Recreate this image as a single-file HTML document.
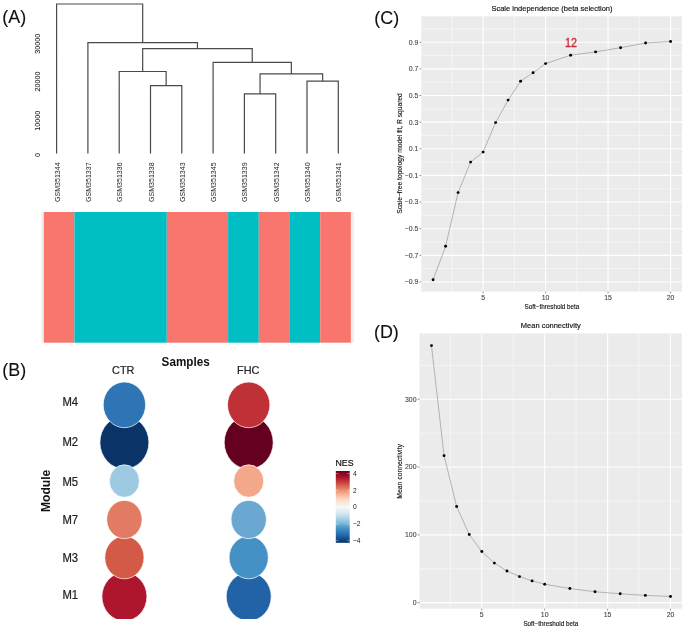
<!DOCTYPE html>
<html><head><meta charset="utf-8"><style>
html,body{margin:0;padding:0;background:#fff;}
svg{display:block;font-family:"Liberation Sans", sans-serif;filter:blur(0.4px);}
</style></head><body>
<svg width="685" height="628" viewBox="0 0 685 628">
<text x="2.30" y="22.60" font-size="17.9" text-anchor="start" fill="#111" transform="translate(0 22.6) scale(1 1.07) translate(0 -22.6)" stroke="#111" stroke-width="0.1">(A)</text>
<path d="M150.50 153.50V85.70H181.80V153.50M119.20 153.50V71.50H166.15V85.70M307.00 153.50V81.20H338.30V153.50M244.40 153.50V93.90H275.70V153.50M260.05 93.90V73.80H322.65V81.20M213.10 153.50V62.40H291.35V73.80M142.68 71.50V48.70H252.23V62.40M87.90 153.50V42.60H197.45V48.70M56.60 153.50V4.00H142.68V42.60" fill="none" stroke="#4a4a4a" stroke-width="1.2"/>
<text x="39.90" y="43.65" font-size="6.61" text-anchor="middle" fill="#222" transform="translate(39.9 43.65) rotate(-90) scale(1.09 1) translate(-39.9 -43.65)" stroke="#222" stroke-width="0.08">30000</text>
<text x="39.90" y="81.50" font-size="6.61" text-anchor="middle" fill="#222" transform="translate(39.9 81.5) rotate(-90) scale(1.09 1) translate(-39.9 -81.5)" stroke="#222" stroke-width="0.08">20000</text>
<text x="39.90" y="120.70" font-size="6.61" text-anchor="middle" fill="#222" transform="translate(39.9 120.7) rotate(-90) scale(1.09 1) translate(-39.9 -120.7)" stroke="#222" stroke-width="0.08">10000</text>
<text x="39.90" y="155.00" font-size="6.61" text-anchor="middle" fill="#222" transform="translate(39.9 155.0) rotate(-90) scale(1.09 1) translate(-39.9 -155.0)" stroke="#222" stroke-width="0.08">0</text>
<text x="59.70" y="162.40" font-size="6.59" text-anchor="end" fill="#222" transform="translate(59.7 162.4) rotate(-90) scale(1.07 1) translate(-59.7 -162.4)">GSM351344</text>
<text x="91.00" y="162.40" font-size="6.59" text-anchor="end" fill="#222" transform="translate(91.0 162.4) rotate(-90) scale(1.07 1) translate(-91.0 -162.4)">GSM351337</text>
<text x="122.30" y="162.40" font-size="6.59" text-anchor="end" fill="#222" transform="translate(122.3 162.4) rotate(-90) scale(1.07 1) translate(-122.3 -162.4)">GSM351336</text>
<text x="153.60" y="162.40" font-size="6.59" text-anchor="end" fill="#222" transform="translate(153.6 162.4) rotate(-90) scale(1.07 1) translate(-153.6 -162.4)">GSM351338</text>
<text x="184.90" y="162.40" font-size="6.59" text-anchor="end" fill="#222" transform="translate(184.9 162.4) rotate(-90) scale(1.07 1) translate(-184.9 -162.4)">GSM351343</text>
<text x="216.20" y="162.40" font-size="6.59" text-anchor="end" fill="#222" transform="translate(216.2 162.4) rotate(-90) scale(1.07 1) translate(-216.2 -162.4)">GSM351345</text>
<text x="247.50" y="162.40" font-size="6.59" text-anchor="end" fill="#222" transform="translate(247.5 162.4) rotate(-90) scale(1.07 1) translate(-247.5 -162.4)">GSM351339</text>
<text x="278.80" y="162.40" font-size="6.59" text-anchor="end" fill="#222" transform="translate(278.8 162.4) rotate(-90) scale(1.07 1) translate(-278.8 -162.4)">GSM351342</text>
<text x="310.10" y="162.40" font-size="6.59" text-anchor="end" fill="#222" transform="translate(310.1 162.4) rotate(-90) scale(1.07 1) translate(-310.1 -162.4)">GSM351340</text>
<text x="341.40" y="162.40" font-size="6.59" text-anchor="end" fill="#222" transform="translate(341.40000000000003 162.4) rotate(-90) scale(1.07 1) translate(-341.40000000000003 -162.4)">GSM351341</text>
<rect x="41.3" y="212" width="2.6" height="130.7" fill="#efefef"/>
<rect x="350.8" y="212" width="3.2" height="130.7" fill="#efefef"/>
<rect x="43.80" y="212" width="30.60" height="130.7" fill="#F8766D"/>
<rect x="74.40" y="212" width="92.40" height="130.7" fill="#00BFC4"/>
<rect x="166.80" y="212" width="61.30" height="130.7" fill="#F8766D"/>
<rect x="228.10" y="212" width="30.70" height="130.7" fill="#00BFC4"/>
<rect x="258.80" y="212" width="30.50" height="130.7" fill="#F8766D"/>
<rect x="289.30" y="212" width="30.90" height="130.7" fill="#00BFC4"/>
<rect x="320.20" y="212" width="30.65" height="130.7" fill="#F8766D"/>
<text x="2.30" y="375.80" font-size="17.9" text-anchor="start" fill="#111" transform="translate(0 375.8) scale(1 1.07) translate(0 -375.8)" stroke="#111" stroke-width="0.1">(B)</text>
<text x="161.60" y="366.20" font-size="11.7" text-anchor="start" fill="#111" font-weight="bold" transform="translate(0 366.2) scale(1 1.07) translate(0 -366.2)">Samples</text>
<text x="123.30" y="373.90" font-size="10.9" text-anchor="middle" fill="#222" transform="translate(0 373.9) scale(1 1.07) translate(0 -373.9)" stroke="#222" stroke-width="0.2">CTR</text>
<text x="248.30" y="374.20" font-size="10.9" text-anchor="middle" fill="#222" transform="translate(0 374.2) scale(1 1.07) translate(0 -374.2)" stroke="#222" stroke-width="0.2">FHC</text>
<text x="62.40" y="405.80" font-size="11.3" text-anchor="start" fill="#222" transform="translate(0 405.8) scale(1 1.07) translate(0 -405.8)" stroke="#222" stroke-width="0.2">M4</text>
<text x="62.40" y="446.20" font-size="11.3" text-anchor="start" fill="#222" transform="translate(0 446.2) scale(1 1.07) translate(0 -446.2)" stroke="#222" stroke-width="0.2">M2</text>
<text x="62.40" y="486.20" font-size="11.3" text-anchor="start" fill="#222" transform="translate(0 486.2) scale(1 1.07) translate(0 -486.2)" stroke="#222" stroke-width="0.2">M5</text>
<text x="62.40" y="523.70" font-size="11.3" text-anchor="start" fill="#222" transform="translate(0 523.6999999999999) scale(1 1.07) translate(0 -523.6999999999999)" stroke="#222" stroke-width="0.2">M7</text>
<text x="62.40" y="561.80" font-size="11.3" text-anchor="start" fill="#222" transform="translate(0 561.8) scale(1 1.07) translate(0 -561.8)" stroke="#222" stroke-width="0.2">M3</text>
<text x="62.40" y="599.40" font-size="11.3" text-anchor="start" fill="#222" transform="translate(0 599.4) scale(1 1.07) translate(0 -599.4)" stroke="#222" stroke-width="0.2">M1</text>
<text x="49.60" y="490.80" font-size="12.1" text-anchor="middle" fill="#111" font-weight="bold" transform="translate(49.6 490.8) rotate(-90) scale(1.0 1) translate(-49.6 -490.8)">Module</text>
<defs><clipPath id="cb"><rect x="0" y="0" width="330" height="619"/></clipPath>
<linearGradient id="rdbu" x1="0" y1="0" x2="0" y2="1"><stop offset="0.00" stop-color="#67001F"/><stop offset="0.10" stop-color="#B2182B"/><stop offset="0.20" stop-color="#D6604D"/><stop offset="0.30" stop-color="#F4A582"/><stop offset="0.40" stop-color="#FDDBC7"/><stop offset="0.50" stop-color="#F7F7F7"/><stop offset="0.60" stop-color="#D1E5F0"/><stop offset="0.70" stop-color="#92C5DE"/><stop offset="0.80" stop-color="#4393C3"/><stop offset="0.90" stop-color="#2166AC"/><stop offset="1.00" stop-color="#053061"/></linearGradient></defs>
<g clip-path="url(#cb)">
<ellipse cx="124.4" cy="596.6" rx="22.50" ry="24.30" fill="#AE162D" stroke="#fff" stroke-width="0.7"/>
<ellipse cx="248.7" cy="596.6" rx="22.50" ry="24.30" fill="#2262A6" stroke="#fff" stroke-width="0.7"/>
<ellipse cx="124.4" cy="442.4" rx="24.50" ry="26.50" fill="#0A3468" stroke="#fff" stroke-width="0.7"/>
<ellipse cx="248.7" cy="442.4" rx="24.50" ry="26.50" fill="#66001F" stroke="#fff" stroke-width="0.7"/>
<ellipse cx="124.4" cy="557.5" rx="19.60" ry="21.30" fill="#D35A47" stroke="#fff" stroke-width="0.7"/>
<ellipse cx="248.7" cy="557.5" rx="19.60" ry="21.30" fill="#4590C4" stroke="#fff" stroke-width="0.7"/>
<ellipse cx="124.4" cy="404.85" rx="21.20" ry="22.85" fill="#2F74B5" stroke="#fff" stroke-width="0.7"/>
<ellipse cx="248.7" cy="404.85" rx="21.20" ry="22.85" fill="#C03037" stroke="#fff" stroke-width="0.7"/>
<ellipse cx="124.4" cy="481.05" rx="15.00" ry="16.25" fill="#9DC9E2" stroke="#fff" stroke-width="0.7"/>
<ellipse cx="248.7" cy="481.05" rx="15.00" ry="16.25" fill="#F3A889" stroke="#fff" stroke-width="0.7"/>
<ellipse cx="124.4" cy="519.5" rx="17.70" ry="19.10" fill="#E27B63" stroke="#fff" stroke-width="0.7"/>
<ellipse cx="248.7" cy="519.5" rx="17.70" ry="19.10" fill="#6AA8D2" stroke="#fff" stroke-width="0.7"/>
</g>
<text x="335.50" y="465.60" font-size="8.8" text-anchor="start" fill="#111" transform="translate(0 465.6) scale(1 1.07) translate(0 -465.6)" stroke="#111" stroke-width="0.2">NES</text>
<rect x="335.8" y="471" width="13.9" height="71.8" fill="url(#rdbu)"/>
<line x1="335.8" x2="338.4" y1="473.60" y2="473.60" stroke="#fff" stroke-width="0.5" stroke-opacity="0.75"/>
<line x1="347.1" x2="349.7" y1="473.60" y2="473.60" stroke="#fff" stroke-width="0.5" stroke-opacity="0.75"/>
<text x="352.90" y="475.90" font-size="6.7" text-anchor="start" fill="#222" transform="translate(0 475.90000000000003) scale(1 1.07) translate(0 -475.90000000000003)">4</text>
<line x1="335.8" x2="338.4" y1="490.35" y2="490.35" stroke="#fff" stroke-width="0.5" stroke-opacity="0.75"/>
<line x1="347.1" x2="349.7" y1="490.35" y2="490.35" stroke="#fff" stroke-width="0.5" stroke-opacity="0.75"/>
<text x="352.90" y="492.65" font-size="6.7" text-anchor="start" fill="#222" transform="translate(0 492.65000000000003) scale(1 1.07) translate(0 -492.65000000000003)">2</text>
<line x1="335.8" x2="338.4" y1="507.10" y2="507.10" stroke="#fff" stroke-width="0.5" stroke-opacity="0.75"/>
<line x1="347.1" x2="349.7" y1="507.10" y2="507.10" stroke="#fff" stroke-width="0.5" stroke-opacity="0.75"/>
<text x="352.90" y="509.40" font-size="6.7" text-anchor="start" fill="#222" transform="translate(0 509.40000000000003) scale(1 1.07) translate(0 -509.40000000000003)">0</text>
<line x1="335.8" x2="338.4" y1="523.85" y2="523.85" stroke="#fff" stroke-width="0.5" stroke-opacity="0.75"/>
<line x1="347.1" x2="349.7" y1="523.85" y2="523.85" stroke="#fff" stroke-width="0.5" stroke-opacity="0.75"/>
<text x="352.90" y="526.15" font-size="6.7" text-anchor="start" fill="#222" transform="translate(0 526.15) scale(1 1.07) translate(0 -526.15)">−2</text>
<line x1="335.8" x2="338.4" y1="540.60" y2="540.60" stroke="#fff" stroke-width="0.5" stroke-opacity="0.75"/>
<line x1="347.1" x2="349.7" y1="540.60" y2="540.60" stroke="#fff" stroke-width="0.5" stroke-opacity="0.75"/>
<text x="352.90" y="542.90" font-size="6.7" text-anchor="start" fill="#222" transform="translate(0 542.9) scale(1 1.07) translate(0 -542.9)">−4</text>
<text x="374.30" y="23.70" font-size="17.9" text-anchor="start" fill="#111" transform="translate(0 23.7) scale(1 1.07) translate(0 -23.7)" stroke="#111" stroke-width="0.1">(C)</text>
<text x="552.00" y="11.10" font-size="7.5" text-anchor="middle" fill="#111" transform="translate(0 11.1) scale(1 1.07) translate(0 -11.1)" stroke="#111" stroke-width="0.15">Scale independence (beta selection)</text>
<rect x="421.3" y="16.3" width="260.70" height="275.30" fill="#EBEBEB"/>
<line x1="451.85" x2="451.85" y1="16.3" y2="291.6" stroke="#fff" stroke-width="0.55" stroke-opacity="0.9"/>
<line x1="514.35" x2="514.35" y1="16.3" y2="291.6" stroke="#fff" stroke-width="0.55" stroke-opacity="0.9"/>
<line x1="576.85" x2="576.85" y1="16.3" y2="291.6" stroke="#fff" stroke-width="0.55" stroke-opacity="0.9"/>
<line x1="639.35" x2="639.35" y1="16.3" y2="291.6" stroke="#fff" stroke-width="0.55" stroke-opacity="0.9"/>
<line y1="268.66" y2="268.66" x1="421.3" x2="682.0" stroke="#fff" stroke-width="0.55" stroke-opacity="0.9"/>
<line y1="242.02" y2="242.02" x1="421.3" x2="682.0" stroke="#fff" stroke-width="0.55" stroke-opacity="0.9"/>
<line y1="215.38" y2="215.38" x1="421.3" x2="682.0" stroke="#fff" stroke-width="0.55" stroke-opacity="0.9"/>
<line y1="188.74" y2="188.74" x1="421.3" x2="682.0" stroke="#fff" stroke-width="0.55" stroke-opacity="0.9"/>
<line y1="162.10" y2="162.10" x1="421.3" x2="682.0" stroke="#fff" stroke-width="0.55" stroke-opacity="0.9"/>
<line y1="135.46" y2="135.46" x1="421.3" x2="682.0" stroke="#fff" stroke-width="0.55" stroke-opacity="0.9"/>
<line y1="108.82" y2="108.82" x1="421.3" x2="682.0" stroke="#fff" stroke-width="0.55" stroke-opacity="0.9"/>
<line y1="82.18" y2="82.18" x1="421.3" x2="682.0" stroke="#fff" stroke-width="0.55" stroke-opacity="0.9"/>
<line y1="55.54" y2="55.54" x1="421.3" x2="682.0" stroke="#fff" stroke-width="0.55" stroke-opacity="0.9"/>
<line y1="28.90" y2="28.90" x1="421.3" x2="682.0" stroke="#fff" stroke-width="0.55" stroke-opacity="0.9"/>
<line x1="483.10" x2="483.10" y1="16.3" y2="291.6" stroke="#fff" stroke-width="1.1"/>
<line x1="545.60" x2="545.60" y1="16.3" y2="291.6" stroke="#fff" stroke-width="1.1"/>
<line x1="608.10" x2="608.10" y1="16.3" y2="291.6" stroke="#fff" stroke-width="1.1"/>
<line x1="670.60" x2="670.60" y1="16.3" y2="291.6" stroke="#fff" stroke-width="1.1"/>
<line y1="281.98" y2="281.98" x1="421.3" x2="682.0" stroke="#fff" stroke-width="1.1"/>
<line y1="255.34" y2="255.34" x1="421.3" x2="682.0" stroke="#fff" stroke-width="1.1"/>
<line y1="228.70" y2="228.70" x1="421.3" x2="682.0" stroke="#fff" stroke-width="1.1"/>
<line y1="202.06" y2="202.06" x1="421.3" x2="682.0" stroke="#fff" stroke-width="1.1"/>
<line y1="175.42" y2="175.42" x1="421.3" x2="682.0" stroke="#fff" stroke-width="1.1"/>
<line y1="148.78" y2="148.78" x1="421.3" x2="682.0" stroke="#fff" stroke-width="1.1"/>
<line y1="122.14" y2="122.14" x1="421.3" x2="682.0" stroke="#fff" stroke-width="1.1"/>
<line y1="95.50" y2="95.50" x1="421.3" x2="682.0" stroke="#fff" stroke-width="1.1"/>
<line y1="68.86" y2="68.86" x1="421.3" x2="682.0" stroke="#fff" stroke-width="1.1"/>
<line y1="42.22" y2="42.22" x1="421.3" x2="682.0" stroke="#fff" stroke-width="1.1"/>
<line x1="483.10" x2="483.10" y1="291.6" y2="293.40" stroke="#333" stroke-width="0.55"/>
<text x="483.10" y="300.50" font-size="6.9" text-anchor="middle" fill="#444" transform="translate(0 300.5) scale(1 1.07) translate(0 -300.5)" stroke="#444" stroke-width="0.1">5</text>
<line x1="545.60" x2="545.60" y1="291.6" y2="293.40" stroke="#333" stroke-width="0.55"/>
<text x="545.60" y="300.50" font-size="6.9" text-anchor="middle" fill="#444" transform="translate(0 300.5) scale(1 1.07) translate(0 -300.5)" stroke="#444" stroke-width="0.1">10</text>
<line x1="608.10" x2="608.10" y1="291.6" y2="293.40" stroke="#333" stroke-width="0.55"/>
<text x="608.10" y="300.50" font-size="6.9" text-anchor="middle" fill="#444" transform="translate(0 300.5) scale(1 1.07) translate(0 -300.5)" stroke="#444" stroke-width="0.1">15</text>
<line x1="670.60" x2="670.60" y1="291.6" y2="293.40" stroke="#333" stroke-width="0.55"/>
<text x="670.60" y="300.50" font-size="6.9" text-anchor="middle" fill="#444" transform="translate(0 300.5) scale(1 1.07) translate(0 -300.5)" stroke="#444" stroke-width="0.1">20</text>
<line y1="281.98" y2="281.98" x1="419.50" x2="421.3" stroke="#333" stroke-width="0.55"/>
<text x="418.30" y="284.38" font-size="6.9" text-anchor="end" fill="#444" transform="translate(0 284.38) scale(1 1.07) translate(0 -284.38)" stroke="#444" stroke-width="0.1">−0.9</text>
<line y1="255.34" y2="255.34" x1="419.50" x2="421.3" stroke="#333" stroke-width="0.55"/>
<text x="418.30" y="257.74" font-size="6.9" text-anchor="end" fill="#444" transform="translate(0 257.73999999999995) scale(1 1.07) translate(0 -257.73999999999995)" stroke="#444" stroke-width="0.1">−0.7</text>
<line y1="228.70" y2="228.70" x1="419.50" x2="421.3" stroke="#333" stroke-width="0.55"/>
<text x="418.30" y="231.10" font-size="6.9" text-anchor="end" fill="#444" transform="translate(0 231.1) scale(1 1.07) translate(0 -231.1)" stroke="#444" stroke-width="0.1">−0.5</text>
<line y1="202.06" y2="202.06" x1="419.50" x2="421.3" stroke="#333" stroke-width="0.55"/>
<text x="418.30" y="204.46" font-size="6.9" text-anchor="end" fill="#444" transform="translate(0 204.46) scale(1 1.07) translate(0 -204.46)" stroke="#444" stroke-width="0.1">−0.3</text>
<line y1="175.42" y2="175.42" x1="419.50" x2="421.3" stroke="#333" stroke-width="0.55"/>
<text x="418.30" y="177.82" font-size="6.9" text-anchor="end" fill="#444" transform="translate(0 177.82) scale(1 1.07) translate(0 -177.82)" stroke="#444" stroke-width="0.1">−0.1</text>
<line y1="148.78" y2="148.78" x1="419.50" x2="421.3" stroke="#333" stroke-width="0.55"/>
<text x="418.30" y="151.18" font-size="6.9" text-anchor="end" fill="#444" transform="translate(0 151.18) scale(1 1.07) translate(0 -151.18)" stroke="#444" stroke-width="0.1">0.1</text>
<line y1="122.14" y2="122.14" x1="419.50" x2="421.3" stroke="#333" stroke-width="0.55"/>
<text x="418.30" y="124.54" font-size="6.9" text-anchor="end" fill="#444" transform="translate(0 124.54) scale(1 1.07) translate(0 -124.54)" stroke="#444" stroke-width="0.1">0.3</text>
<line y1="95.50" y2="95.50" x1="419.50" x2="421.3" stroke="#333" stroke-width="0.55"/>
<text x="418.30" y="97.90" font-size="6.9" text-anchor="end" fill="#444" transform="translate(0 97.9) scale(1 1.07) translate(0 -97.9)" stroke="#444" stroke-width="0.1">0.5</text>
<line y1="68.86" y2="68.86" x1="419.50" x2="421.3" stroke="#333" stroke-width="0.55"/>
<text x="418.30" y="71.26" font-size="6.9" text-anchor="end" fill="#444" transform="translate(0 71.26000000000002) scale(1 1.07) translate(0 -71.26000000000002)" stroke="#444" stroke-width="0.1">0.7</text>
<line y1="42.22" y2="42.22" x1="419.50" x2="421.3" stroke="#333" stroke-width="0.55"/>
<text x="418.30" y="44.62" font-size="6.9" text-anchor="end" fill="#444" transform="translate(0 44.62) scale(1 1.07) translate(0 -44.62)" stroke="#444" stroke-width="0.1">0.9</text>
<polyline points="433.10,279.70 445.60,246.30 458.10,192.60 470.60,162.10 483.10,152.10 495.60,122.60 508.10,100.10 520.60,81.20 533.10,72.70 545.60,63.60 570.60,55.20 595.60,51.90 620.60,47.70 645.60,43.00 670.60,41.50" fill="none" stroke="#999" stroke-width="0.7"/>
<circle cx="433.10" cy="279.70" r="1.45" fill="#000"/>
<circle cx="445.60" cy="246.30" r="1.45" fill="#000"/>
<circle cx="458.10" cy="192.60" r="1.45" fill="#000"/>
<circle cx="470.60" cy="162.10" r="1.45" fill="#000"/>
<circle cx="483.10" cy="152.10" r="1.45" fill="#000"/>
<circle cx="495.60" cy="122.60" r="1.45" fill="#000"/>
<circle cx="508.10" cy="100.10" r="1.45" fill="#000"/>
<circle cx="520.60" cy="81.20" r="1.45" fill="#000"/>
<circle cx="533.10" cy="72.70" r="1.45" fill="#000"/>
<circle cx="545.60" cy="63.60" r="1.45" fill="#000"/>
<circle cx="570.60" cy="55.20" r="1.45" fill="#000"/>
<circle cx="595.60" cy="51.90" r="1.45" fill="#000"/>
<circle cx="620.60" cy="47.70" r="1.45" fill="#000"/>
<circle cx="645.60" cy="43.00" r="1.45" fill="#000"/>
<circle cx="670.60" cy="41.50" r="1.45" fill="#000"/>
<text x="570.90" y="46.70" font-size="12.1" text-anchor="middle" fill="#C92A33" transform="translate(0 46.7) scale(1 1.07) translate(0 -46.7)" stroke="#C92A33" stroke-width="0.3" textLength="12.0" lengthAdjust="spacingAndGlyphs">12</text>
<text x="552.00" y="309.30" font-size="6.3" text-anchor="middle" fill="#111" transform="translate(0 309.3) scale(1 1.07) translate(0 -309.3)" stroke="#111" stroke-width="0.13">Soft−threshold beta</text>
<text x="402.20" y="153.50" font-size="7.0" text-anchor="middle" fill="#111" transform="translate(402.2 153.5) rotate(-90) scale(0.953 1) translate(-402.2 -153.5)" stroke="#111" stroke-width="0.12">Scale−free topology model fit, R squared</text>
<text x="374.00" y="338.30" font-size="17.9" text-anchor="start" fill="#111" transform="translate(0 338.3) scale(1 1.07) translate(0 -338.3)" stroke="#111" stroke-width="0.1">(D)</text>
<text x="550.80" y="327.60" font-size="7.5" text-anchor="middle" fill="#111" transform="translate(0 327.6) scale(1 1.07) translate(0 -327.6)" stroke="#111" stroke-width="0.15">Mean connectivity</text>
<rect x="419.5" y="333.4" width="262.50" height="275.30" fill="#EBEBEB"/>
<line x1="450.35" x2="450.35" y1="333.4" y2="608.7" stroke="#fff" stroke-width="0.55" stroke-opacity="0.9"/>
<line x1="513.25" x2="513.25" y1="333.4" y2="608.7" stroke="#fff" stroke-width="0.55" stroke-opacity="0.9"/>
<line x1="576.15" x2="576.15" y1="333.4" y2="608.7" stroke="#fff" stroke-width="0.55" stroke-opacity="0.9"/>
<line x1="639.05" x2="639.05" y1="333.4" y2="608.7" stroke="#fff" stroke-width="0.55" stroke-opacity="0.9"/>
<line y1="568.72" y2="568.72" x1="419.5" x2="682.0" stroke="#fff" stroke-width="0.55" stroke-opacity="0.9"/>
<line y1="500.95" y2="500.95" x1="419.5" x2="682.0" stroke="#fff" stroke-width="0.55" stroke-opacity="0.9"/>
<line y1="433.18" y2="433.18" x1="419.5" x2="682.0" stroke="#fff" stroke-width="0.55" stroke-opacity="0.9"/>
<line y1="365.41" y2="365.41" x1="419.5" x2="682.0" stroke="#fff" stroke-width="0.55" stroke-opacity="0.9"/>
<line x1="481.80" x2="481.80" y1="333.4" y2="608.7" stroke="#fff" stroke-width="1.1"/>
<line x1="544.70" x2="544.70" y1="333.4" y2="608.7" stroke="#fff" stroke-width="1.1"/>
<line x1="607.60" x2="607.60" y1="333.4" y2="608.7" stroke="#fff" stroke-width="1.1"/>
<line x1="670.50" x2="670.50" y1="333.4" y2="608.7" stroke="#fff" stroke-width="1.1"/>
<line y1="602.60" y2="602.60" x1="419.5" x2="682.0" stroke="#fff" stroke-width="1.1"/>
<line y1="534.83" y2="534.83" x1="419.5" x2="682.0" stroke="#fff" stroke-width="1.1"/>
<line y1="467.06" y2="467.06" x1="419.5" x2="682.0" stroke="#fff" stroke-width="1.1"/>
<line y1="399.29" y2="399.29" x1="419.5" x2="682.0" stroke="#fff" stroke-width="1.1"/>
<line x1="481.80" x2="481.80" y1="608.7" y2="610.50" stroke="#333" stroke-width="0.55"/>
<text x="481.80" y="616.60" font-size="6.9" text-anchor="middle" fill="#444" transform="translate(0 616.6) scale(1 1.07) translate(0 -616.6)" stroke="#444" stroke-width="0.1">5</text>
<line x1="544.70" x2="544.70" y1="608.7" y2="610.50" stroke="#333" stroke-width="0.55"/>
<text x="544.70" y="616.60" font-size="6.9" text-anchor="middle" fill="#444" transform="translate(0 616.6) scale(1 1.07) translate(0 -616.6)" stroke="#444" stroke-width="0.1">10</text>
<line x1="607.60" x2="607.60" y1="608.7" y2="610.50" stroke="#333" stroke-width="0.55"/>
<text x="607.60" y="616.60" font-size="6.9" text-anchor="middle" fill="#444" transform="translate(0 616.6) scale(1 1.07) translate(0 -616.6)" stroke="#444" stroke-width="0.1">15</text>
<line x1="670.50" x2="670.50" y1="608.7" y2="610.50" stroke="#333" stroke-width="0.55"/>
<text x="670.50" y="616.60" font-size="6.9" text-anchor="middle" fill="#444" transform="translate(0 616.6) scale(1 1.07) translate(0 -616.6)" stroke="#444" stroke-width="0.1">20</text>
<line y1="602.60" y2="602.60" x1="417.70" x2="419.5" stroke="#333" stroke-width="0.55"/>
<text x="416.50" y="605.00" font-size="6.9" text-anchor="end" fill="#444" transform="translate(0 605.0) scale(1 1.07) translate(0 -605.0)" stroke="#444" stroke-width="0.1">0</text>
<line y1="534.83" y2="534.83" x1="417.70" x2="419.5" stroke="#333" stroke-width="0.55"/>
<text x="416.50" y="537.23" font-size="6.9" text-anchor="end" fill="#444" transform="translate(0 537.23) scale(1 1.07) translate(0 -537.23)" stroke="#444" stroke-width="0.1">100</text>
<line y1="467.06" y2="467.06" x1="417.70" x2="419.5" stroke="#333" stroke-width="0.55"/>
<text x="416.50" y="469.46" font-size="6.9" text-anchor="end" fill="#444" transform="translate(0 469.46000000000004) scale(1 1.07) translate(0 -469.46000000000004)" stroke="#444" stroke-width="0.1">200</text>
<line y1="399.29" y2="399.29" x1="417.70" x2="419.5" stroke="#333" stroke-width="0.55"/>
<text x="416.50" y="401.69" font-size="6.9" text-anchor="end" fill="#444" transform="translate(0 401.69) scale(1 1.07) translate(0 -401.69)" stroke="#444" stroke-width="0.1">300</text>
<polyline points="431.48,345.62 444.06,455.67 456.64,506.50 469.22,534.49 481.80,551.57 494.38,563.09 506.96,571.02 519.54,576.58 532.12,580.91 544.70,584.23 569.86,588.50 595.02,591.76 620.18,593.79 645.34,595.42 670.50,596.43" fill="none" stroke="#999" stroke-width="0.7"/>
<circle cx="431.48" cy="345.62" r="1.45" fill="#000"/>
<circle cx="444.06" cy="455.67" r="1.45" fill="#000"/>
<circle cx="456.64" cy="506.50" r="1.45" fill="#000"/>
<circle cx="469.22" cy="534.49" r="1.45" fill="#000"/>
<circle cx="481.80" cy="551.57" r="1.45" fill="#000"/>
<circle cx="494.38" cy="563.09" r="1.45" fill="#000"/>
<circle cx="506.96" cy="571.02" r="1.45" fill="#000"/>
<circle cx="519.54" cy="576.58" r="1.45" fill="#000"/>
<circle cx="532.12" cy="580.91" r="1.45" fill="#000"/>
<circle cx="544.70" cy="584.23" r="1.45" fill="#000"/>
<circle cx="569.86" cy="588.50" r="1.45" fill="#000"/>
<circle cx="595.02" cy="591.76" r="1.45" fill="#000"/>
<circle cx="620.18" cy="593.79" r="1.45" fill="#000"/>
<circle cx="645.34" cy="595.42" r="1.45" fill="#000"/>
<circle cx="670.50" cy="596.43" r="1.45" fill="#000"/>
<text x="550.80" y="626.00" font-size="6.3" text-anchor="middle" fill="#111" transform="translate(0 626.0) scale(1 1.07) translate(0 -626.0)" stroke="#111" stroke-width="0.13">Soft−threshold beta</text>
<text x="401.90" y="471.40" font-size="7.0" text-anchor="middle" fill="#111" transform="translate(401.9 471.4) rotate(-90) scale(0.976 1) translate(-401.9 -471.4)" stroke="#111" stroke-width="0.12">Mean connectivity</text>
</svg>
</body></html>
